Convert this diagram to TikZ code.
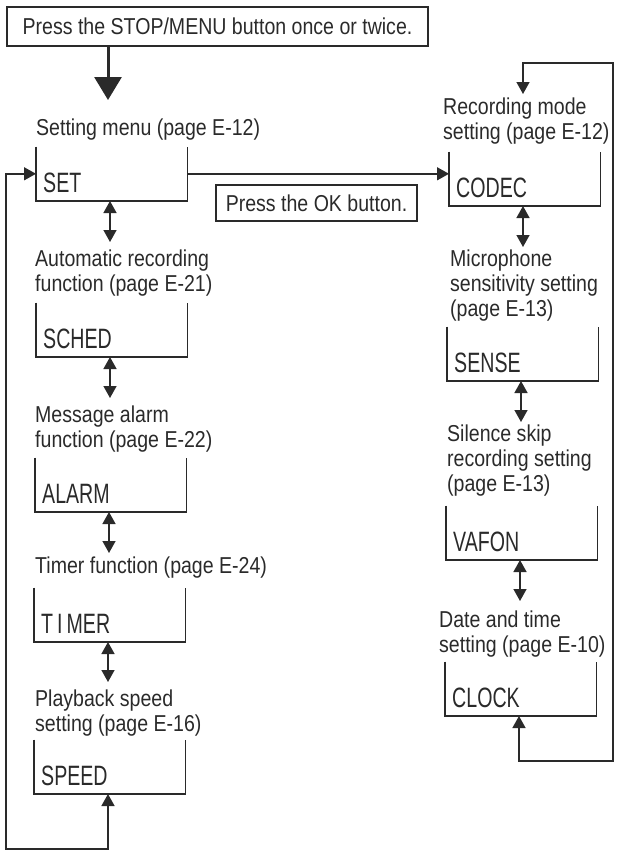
\documentclass[tikz,border=0pt]{standalone}
\usepackage{fontspec}
\usetikzlibrary{arrows.meta}
\newfontfamily\labfont[FakeStretch=0.85]{Liberation Sans}
\newfontfamily\dispfont[FakeStretch=0.7]{Liberation Sans}
\definecolor{ink}{HTML}{2A2A2A}
\begin{document}
\begin{tikzpicture}[x=1pt,y=-1pt,
  lab/.style={font=\labfont\fontsize{23}{25}\selectfont, text=ink, inner sep=0pt, anchor=north west, align=left},
  disp/.style={font=\dispfont\fontsize{28}{30}\selectfont, text=ink, inner xsep=7pt, inner ysep=0pt,
     text width=137pt, text height=46pt, text depth=8pt, align=left, anchor=south west},
  bracket/.style={draw=ink, line width=1.5pt},
  framebox/.style={draw=ink, line width=1.5pt, font=\labfont\fontsize{23}{25}\selectfont, text=ink, inner sep=0pt},
  ln/.style={draw=ink, line width=1.5pt},
  tip/.style={Triangle[length=12pt,width=13pt]},
  dbl/.style={ln, {Triangle[length=12pt,width=13pt]}-{Triangle[length=12pt,width=13pt]}},
  one/.style={ln, -{Triangle[length=12pt,width=13pt]}},
]
\useasboundingbox (0,0) rectangle (617,851);

% top instruction
\node[framebox, minimum width=421pt, minimum height=39pt] (top) at (217.5,26.5) {Press the STOP/MENU button once or twice.};

% labels left
\node[lab] (l1) at (36,119) {Setting menu (page E-12)};
\node[lab] (l2) at (35,250) {Automatic recording\\function (page E-21)};
\node[lab] (l3) at (35,406) {Message alarm\\function (page E-22)};
\node[lab] (l4) at (35,557) {Timer function (page E-24)};
\node[lab] (l5) at (35,690) {Playback speed\\setting (page E-16)};

% labels right
\node[lab] (r1) at (443,98) {Recording mode\\setting (page E-12)};
\node[lab] (r2) at (450,250) {Microphone\\sensitivity setting\\(page E-13)};
\node[lab] (r3) at (447,425) {Silence skip\\recording setting\\(page E-13)};
\node[lab] (r4) at (439,611) {Date and time\\setting (page E-10)};

% display boxes left
\node[disp] (set) at (36,201) {SET};
\node[disp] (sched) at (36,357) {SCHED};
\node[disp] (alarm) at (35,512) {ALARM};
\node[disp] (timer) at (34,642) {T\kern4pt I\kern4pt MER};
\node[disp] (speed) at (34,794) {SPEED};

% display boxes right
\node[disp] (codec) at (449,206) {CODEC};
\node[disp] (sense) at (447,381) {SENSE};
\node[disp] (vafon) at (446,560) {VAFON};
\node[disp] (clock) at (445,716) {CLOCK};

\foreach \b in {set,sched,alarm,timer,speed,codec,sense,vafon,clock}{
  \draw[bracket] (\b.north west) |- (\b.south east) -- (\b.north east);
}

% OK instruction
\node[framebox, minimum width=201pt, minimum height=36pt] (ok) at (316.5,203) {Press the OK button.};

% big arrow
\coordinate (bx) at (108,0);
\draw[draw=ink, line width=3pt, -{Triangle[length=23pt,width=27pt]}, shorten >=19pt]
  (top.south -| bx) -- (bx |- l1.north);

% double arrows left column
\foreach \b/\l/\s in {set/l2/8pt, sched/l3/8pt, alarm/l4/4pt, timer/l5/8pt}{
  \coordinate (a-\b) at ([xshift=74pt]\b.south west);
  \draw[dbl, shorten >=\s] (a-\b) -- (a-\b |- \l.north);
}
% double arrows right column
\foreach \b/\l/\s in {codec/r2/3pt, sense/r3/3pt, vafon/r4/10pt}{
  \coordinate (a-\b) at ([xshift=74pt]\b.south west);
  \draw[dbl, shorten >=\s] (a-\b) -- (a-\b |- \l.north);
}

% SET -> CODEC
\draw[one] (set.east) -- (set.east -| codec.west);

% left loop
\coordinate (a-speed) at ([xshift=74pt]speed.south west);
\coordinate (lc) at (6,849);
\draw[dbl] (a-speed) |- (lc) |- (set.west);

% right loop
\coordinate (a-clock) at ([xshift=74pt]clock.south west);
\coordinate (rc) at (613,761);
\coordinate (rt) at (613,63);
\coordinate (rx) at (523,0);
\draw[dbl, shorten >=4pt] (a-clock) |- (rc) -- (rt) -| (rx |- r1.north);
\end{tikzpicture}
\end{document}
